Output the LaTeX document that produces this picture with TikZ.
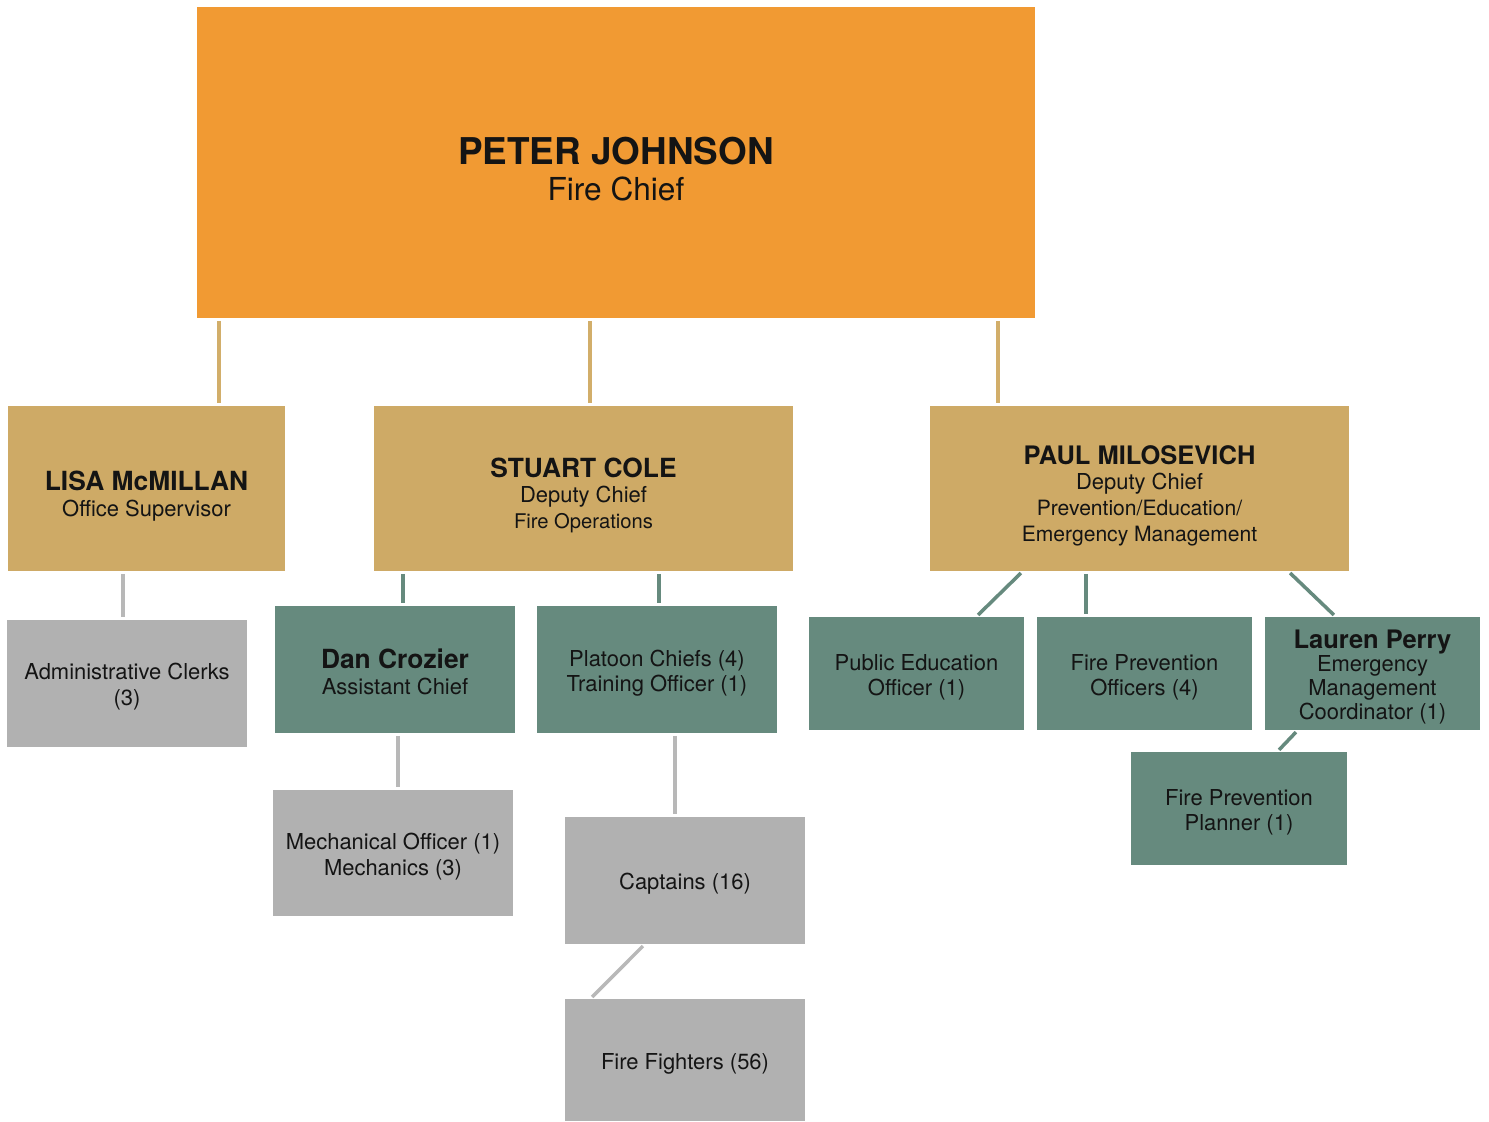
\documentclass[tikz,border=0pt]{standalone}
\usepackage{fontspec}
\setmainfont{TeX Gyre Heros}
\usepackage{tikz}
\usetikzlibrary{calc}
\definecolor{chiefcolor}{HTML}{F19A33}
\definecolor{deputycolor}{HTML}{CEAA66}
\definecolor{teamcolor}{HTML}{668A7E}
\definecolor{staffcolor}{HTML}{B1B1B1}
\definecolor{tanlinkcolor}{HTML}{D2AE6A}
\definecolor{greylinkcolor}{HTML}{B8B8B8}
\definecolor{textcolor}{HTML}{141414}
\newcommand{\boxname}[2]{{\bfseries\fontsize{#1}{14}\selectfont #2}}
\newcommand{\gap}[1]{\rule{0pt}{#1}}

\begin{document}
\begin{tikzpicture}[x=0.02cm, y=-0.02cm,
    every node/.style={inner sep=0pt, outer sep=0pt, align=center, text=textcolor},
    chiefbox/.style={fill=chiefcolor, minimum width=16.76cm, minimum height=6.22cm,
                     font=\fontsize{18}{20.5}\selectfont},
    deputybox/.style={fill=deputycolor, minimum height=3.3cm,
                      font=\fontsize{12.5}{14.7}\selectfont},
    teambox/.style={fill=teamcolor, font=\fontsize{12.5}{14.7}\selectfont},
    staffbox/.style={fill=staffcolor, minimum width=4.8cm,
                     font=\fontsize{12.5}{14.7}\selectfont,
                     execute at begin node={\gap{13.3pt}}},
    tanlink/.style={draw=tanlinkcolor, line width=2pt, shorten <=0.06cm, shorten >=0.06cm},
    greenlink/.style={draw=teamcolor, line width=2pt, shorten <=0.06cm, shorten >=0.06cm},
    greylink/.style={draw=greylinkcolor, line width=2pt, shorten <=0.06cm, shorten >=0.06cm}
]
    \useasboundingbox (0,0) rectangle (1489,1122);

    % Fire Chief
    \node[chiefbox] (chief) at (616,162.5)
         {\gap{23pt}{\bfseries\fontsize{21}{20.5}\selectfont PETER JOHNSON}\\Fire Chief};

    % Second level
    \node[deputybox, minimum width=5.54cm] (lisa) at (146.5,488.5)
         {\gap{20pt}\boxname{15}{LISA McMILLAN}\\Office Supervisor};
    \node[deputybox, minimum width=8.38cm] (stuart) at (583.5,488.5)
         {\gap{19pt}\boxname{15}{STUART COLE}\\Deputy Chief\\{\fontsize{11.5}{14}\selectfont Fire Operations}};
    \node[deputybox, minimum width=8.38cm] (paul) at (1139.5,488.5)
         {\gap{19pt}\boxname{14.5}{PAUL MILOSEVICH}\\Deputy Chief\\{\fontsize{12}{14}\selectfont Prevention/Education/}\\{\fontsize{12}{14}\selectfont Emergency Management}};

    % Office staff
    \node[staffbox, minimum height=2.54cm] (clerks) at (127,683.5)
         {\gap{13.3pt}Administrative Clerks\\(3)};

    % Fire operations
    \node[teambox, minimum width=4.8cm, minimum height=2.54cm] (dan) at (395,669.5)
         {\gap{14pt}\boxname{15}{Dan Crozier}\\Assistant Chief};
    \node[teambox, minimum width=4.8cm, minimum height=2.54cm] (platoon) at (657,669.5)
         {\gap{13.5pt}Platoon Chiefs (4)\\Training Officer (1)};
    \node[staffbox, minimum height=2.52cm] (mech) at (393,853)
         {\gap{13.3pt}Mechanical Officer (1)\\Mechanics (3)};
    \node[staffbox, minimum height=2.54cm] (captains) at (685,880.5)
         {Captains (16)};
    \node[staffbox, minimum height=2.44cm] (fighters) at (685,1060)
         {Fire Fighters (56)};

    % Prevention / education
    \node[teambox, minimum width=4.3cm, minimum height=2.26cm] (pubed) at (916.5,673.5)
         {\gap{13.5pt}Public Education\\Officer (1)};
    \node[teambox, minimum width=4.3cm, minimum height=2.26cm] (fpo) at (1144.5,673.5)
         {\gap{13.5pt}Fire Prevention\\Officers (4)};
    \node[teambox, minimum width=4.3cm, minimum height=2.26cm,
          font=\fontsize{12.5}{13.6}\selectfont] (lauren) at (1372.5,673.5)
         {\gap{14.5pt}\boxname{14.5}{Lauren Perry}\\Emergency\\Management\\Coordinator (1)};
    \node[teambox, minimum width=4.32cm, minimum height=2.26cm] (planner) at (1239,808.5)
         {\gap{13.5pt}Fire Prevention\\Planner (1)};

    % Link ends
    \coordinate (lisatop) at ([xshift=1.45cm]lisa.north);
    \coordinate (stuarttop) at ([xshift=0.13cm]stuart.north);
    \coordinate (paultop) at ([xshift=-2.83cm]paul.north);
    \coordinate (clerkstop) at ([xshift=-0.08cm]clerks.north);
    \coordinate (dantop) at ([xshift=0.16cm]dan.north);
    \coordinate (platoontop) at ([xshift=0.04cm]platoon.north);
    \coordinate (mechtop) at ([xshift=0.1cm]mech.north);
    \coordinate (captainstop) at ([xshift=-0.2cm]captains.north);
    \coordinate (fpotop) at ([xshift=-1.17cm]fpo.north);

    % Links
    \draw[tanlink] (lisatop |- chief.south) -- (lisatop);
    \draw[tanlink] (stuarttop |- chief.south) -- (stuarttop);
    \draw[tanlink] (paultop |- chief.south) -- (paultop);
    \draw[greylink] (clerkstop |- lisa.south) -- (clerkstop);
    \draw[greenlink] (dantop |- stuart.south) -- (dantop);
    \draw[greenlink] (platoontop |- stuart.south) -- (platoontop);
    \draw[greylink] (mechtop |- dan.south) -- (mechtop);
    \draw[greylink] (captainstop |- platoon.south) -- (captainstop);
    \draw[greylink] ([xshift=-0.8cm]captains.south) -- ([xshift=-1.9cm]fighters.north);
    \draw[greenlink] ([xshift=-2.33cm]paul.south) -- ([xshift=1.19cm]pubed.north);
    \draw[greenlink] (fpotop |- paul.south) -- (fpotop);
    \draw[greenlink] ([xshift=2.97cm]paul.south) -- ([xshift=-0.73cm]lauren.north);
    \draw[greenlink] ([xshift=-1.49cm]lauren.south) -- ([xshift=0.76cm]planner.north);
\end{tikzpicture}
\end{document}
